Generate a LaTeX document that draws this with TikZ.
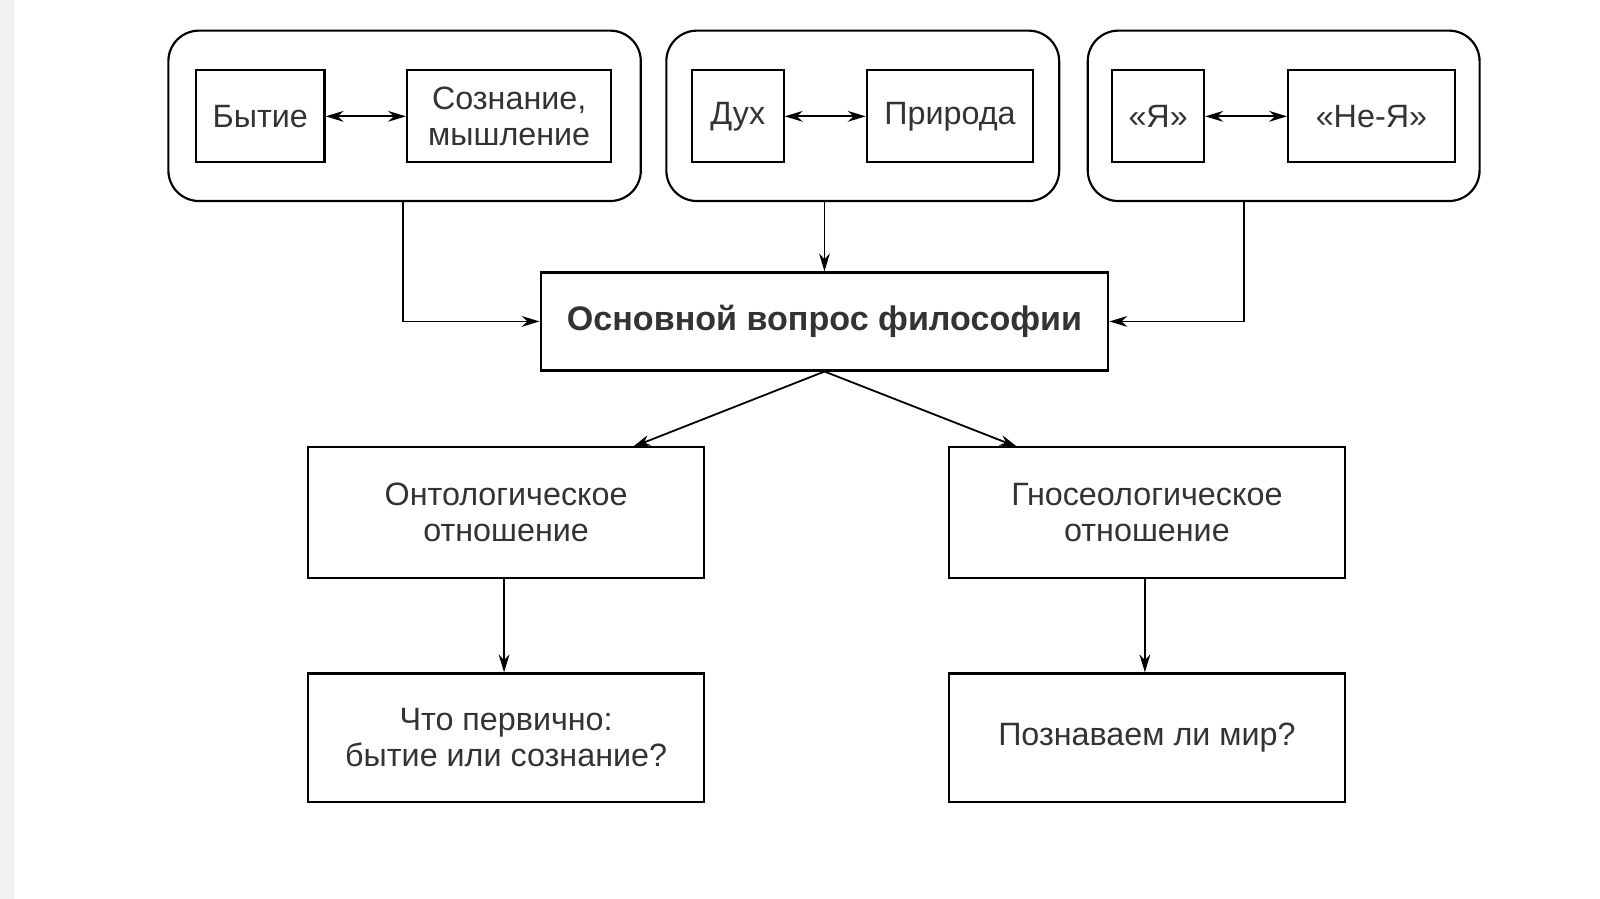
\documentclass[tikz,border=0pt]{standalone}
\usepackage{fontspec}
\setmainfont{Liberation Sans}
\usetikzlibrary{arrows.meta}
\begin{document}
\begin{tikzpicture}[x=0.01cm, y=-0.01cm,
    box/.style={draw, line width=0.6pt, inner sep=0pt, align=center, text=black!80, font=\fontsize{9}{10}\selectfont},
    grp/.style={draw, line width=0.6pt, rounded corners=0.3cm},
    arr/.style={-{Stealth[length=5pt, width=3pt]}, line width=0.5pt},
    dbl/.style={{Stealth[length=5pt, width=3pt]}-{Stealth[length=5pt, width=3pt]}, line width=0.5pt}]
        \useasboundingbox (0, 0) rectangle (1568, 881);
        \fill[black!5] (0, 0) rectangle (14, 881);

        \draw[grp] (165, 30) rectangle (628, 197);
        \draw[grp] (653, 30) rectangle (1038, 197);
        \draw[grp] (1066, 30) rectangle (1450, 197);

        \node[box, minimum width=1.26cm, minimum height=0.9cm] (bytie) at (255, 114) {Бытие};
        \node[box, minimum width=2.00cm, minimum height=0.9cm] (soz) at (499, 114) {Сознание,\\мышление};
        \node[box, minimum width=0.90cm, minimum height=0.9cm] (duh) at (723, 114) {Дух};
        \node[box, minimum width=1.63cm, minimum height=0.9cm] (prir) at (931, 114) {Природа};
        \node[box, minimum width=0.90cm, minimum height=0.9cm] (ya) at (1135, 114) {«Я»};
        \node[box, minimum width=1.63cm, minimum height=0.9cm] (neya) at (1344, 114) {«Не-Я»};

        \node[box, minimum width=5.56cm, minimum height=0.96cm, font=\fontsize{9.5}{10.5}\selectfont\bfseries] (main) at (808, 315) {Основной вопрос философии};

        \node[box, minimum width=3.88cm, minimum height=1.28cm] (onto) at (496, 502) {Онтологическое\\отношение};
        \node[box, minimum width=3.88cm, minimum height=1.28cm] (gno) at (1124, 502) {Гносеологическое\\отношение};
        \node[box, minimum width=3.88cm, minimum height=1.26cm] (perv) at (496, 723) {Что первично:\\бытие или сознание?};
        \node[box, minimum width=3.88cm, minimum height=1.26cm] (poz) at (1124, 723) {Познаваем ли мир?};

        \coordinate (g1) at (395, 197);
        \coordinate (g2) at (808, 197);
        \coordinate (g3) at (1219, 197);

        \draw [dbl] (bytie) -- (soz);
        \draw [dbl] (duh) -- (prir);
        \draw [dbl] (ya) -- (neya);

        \draw [arr] (g1) |- (main.west);
        \draw [arr] (g2) -- (main.north);
        \draw [arr] (g3) |- (main.east);
        \draw [arr] (main.south) -- (620, 438);
        \draw [arr] (main.south) -- (997, 438);
        \draw [arr] (onto.south -| 494, 0) -- (perv.north -| 494, 0);
        \draw [arr] (gno.south -| 1122, 0) -- (poz.north -| 1122, 0);
    \end{tikzpicture}
\end{document}
